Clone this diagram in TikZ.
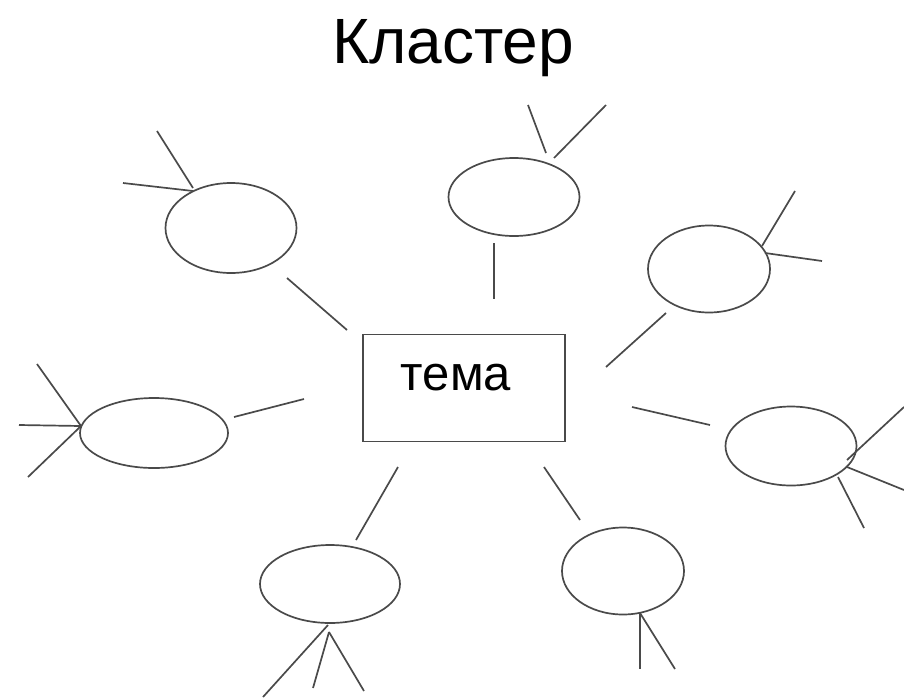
\documentclass[tikz,border=0pt]{standalone}
\usepackage{fontspec}
\setmainfont{Liberation Sans}
\usetikzlibrary{shapes.geometric}
\definecolor{ink}{HTML}{4A4A4A}
\tikzset{
  bub/.style={draw=ink, ellipse, line width=1.7pt, inner sep=0pt, fill=white},
  ln/.style={draw=ink, line width=1.7pt},
  topic/.style={draw=ink, line width=1.5pt, minimum width=202pt, minimum height=107pt, inner sep=0pt}
}
\begin{document}
\begin{tikzpicture}[x=1pt,y=-1pt]
\useasboundingbox (0,0) rectangle (904,697);
% title
\node[anchor=base, font=\fontsize{64}{70}\selectfont] (title) at (453,63) {Кластер};
% central box
\node[topic] (box) at (464,388) {};
\node[anchor=base, font=\fontsize{49}{56}\selectfont] (tema) at (456,390) {тема};
% ellipses
\node[bub, minimum width=131pt, minimum height=90pt] (e1) at (231,228) {};
\node[bub, minimum width=131pt, minimum height=78pt] (e2) at (514,197) {};
\node[bub, minimum width=122pt, minimum height=87pt] (e3) at (709,269) {};
\node[bub, minimum width=148pt, minimum height=70pt] (e4) at (154,433) {};
\node[bub, minimum width=131pt, minimum height=79pt] (e5) at (791,446) {};
\node[bub, minimum width=140pt, minimum height=78pt] (e6) at (330,584) {};
\node[bub, minimum width=122pt, minimum height=87pt] (e7) at (623,571) {};
% connectors to the box (free ends)
\coordinate (c1a) at (287,278); \coordinate (c1b) at (347,330);
\coordinate (c2a) at (494,243); \coordinate (c2b) at (494,299);
\coordinate (c3a) at (666,313); \coordinate (c3b) at (606,367);
\coordinate (c4a) at (234,417); \coordinate (c4b) at (304,399);
\coordinate (c5a) at (632,407); \coordinate (c5b) at (710,425);
\coordinate (c6a) at (398,467); \coordinate (c6b) at (356,540);
\coordinate (c7a) at (544,467); \coordinate (c7b) at (580,520);
\foreach \i in {1,...,7} { \draw[ln] (c\i a) -- (c\i b); }
% spokes
\coordinate (s1a) at (157,131); \coordinate (s1b) at (193,188);
\coordinate (s1c) at (123,183); \coordinate (s1d) at (193,191);
\draw[ln] (s1a) -- (s1b); \draw[ln] (s1c) -- (s1d);
\coordinate (s2a) at (528,105); \coordinate (s2b) at (546,153);
\coordinate (s2c) at (606,105); \coordinate (s2d) at (554,158);
\draw[ln] (s2a) -- (s2b); \draw[ln] (s2c) -- (s2d);
\coordinate (s3a) at (795,191); \coordinate (s3b) at (762,246);
\coordinate (s3c) at (765,253); \coordinate (s3d) at (822,261);
\draw[ln] (s3a) -- (s3b); \draw[ln] (s3c) -- (s3d);
\coordinate (s4o) at (81,426);
\coordinate (s4a) at (37,364); \coordinate (s4b) at (19,425); \coordinate (s4c) at (28,477);
\draw[ln] (s4o) -- (s4a); \draw[ln] (s4o) -- (s4b); \draw[ln] (s4o) -- (s4c);
\coordinate (s5a) at (847,460); \coordinate (s5b) at (904,407);
\coordinate (s5c) at (847,467); \coordinate (s5d) at (904,490);
\coordinate (s5e) at (838,477); \coordinate (s5f) at (864,528);
\draw[ln] (s5a) -- (s5b); \draw[ln] (s5c) -- (s5d); \draw[ln] (s5e) -- (s5f);
\coordinate (s6o) at (328,625); \coordinate (s6p) at (329,632);
\coordinate (s6a) at (263,697); \coordinate (s6b) at (313,688); \coordinate (s6c) at (364,691);
\draw[ln] (s6o) -- (s6a); \draw[ln] (s6p) -- (s6b); \draw[ln] (s6p) -- (s6c);
\coordinate (s7o) at (640,613);
\coordinate (s7a) at (640,669); \coordinate (s7b) at (675,669);
\draw[ln] (s7o) -- (s7a); \draw[ln] (s7o) -- (s7b);
\end{tikzpicture}
\end{document}
